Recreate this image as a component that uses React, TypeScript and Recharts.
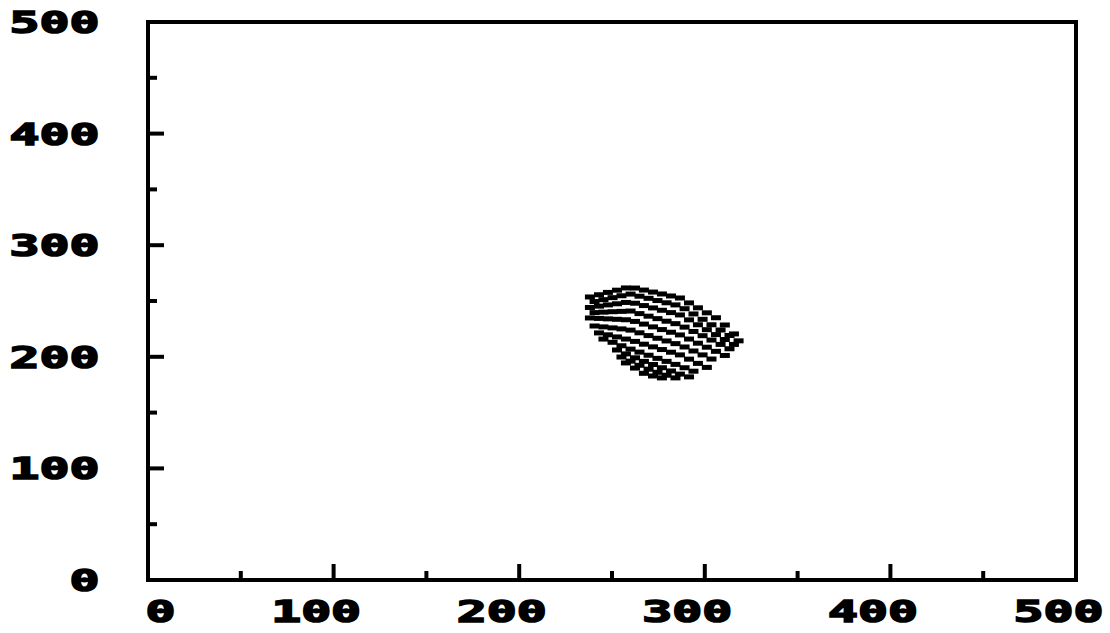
import { ScatterChart, Scatter, XAxis, YAxis, ReferenceArea } from 'recharts';

// axis ticks (labels only on the hundreds)
const axisTicks = [0, 50, 100, 150, 200, 250, 300, 350, 400, 450, 500];

// sample columns of the mesh (x values), two interleaved sets
const evenCols = [238.1, 243.0, 247.8, 252.7, 257.5, 262.4, 267.2, 272.1, 276.9, 281.8, 286.6, 291.5, 296.3, 301.1, 306.0, 310.8, 315.7];
const oddCols = [240.6, 245.4, 250.3, 255.1, 260.0, 264.8, 269.7, 274.5, 279.4, 284.2, 289.1, 293.9, 298.8, 303.6, 308.5, 313.3, 318.2];

// y values of each strand of the mesh, top to bottom
const strand0 = [253.6, 255.6, 257.7, 259.7, 261.7, 261.6, 259.8, 258.0, 256.3, 254.5, 252.7, 248.3, 243.9, 239.4, 235.0, 228.5, 220.5];
const strand1 = [249.5, 251.2, 253.0, 254.7, 256.2, 254.3, 252.4, 250.4, 248.4, 246.5, 243.1, 238.4, 233.6, 228.7, 224.0, 219.1, 214.3];
const strand2 = [244.2, 245.4, 246.5, 247.5, 248.7, 248.0, 245.9, 243.8, 241.7, 239.6, 237.5, 233.1, 228.7, 224.3, 219.9, 215.5, 211.1];
const strand3 = [239.6, 240.0, 240.4, 240.7, 241.0, 238.7, 236.4, 234.2, 231.9, 229.7, 226.6, 222.7, 218.9, 215.0, 211.1, 207.2];
const strand4 = [234.8, 234.4, 234.0, 233.6, 233.2, 231.7, 229.3, 226.8, 224.4, 222.0, 219.6, 215.9, 212.2, 208.6, 204.9, 201.2];
const strand5 = [227.6, 226.8, 225.9, 225.0, 223.9, 221.5, 219.0, 216.6, 214.2, 211.8, 208.8, 205.2, 201.7, 198.0];
const strand6 = [221.4, 219.7, 217.8, 215.9, 213.8, 211.3, 208.9, 206.5, 204.1, 201.7, 197.9, 194.1, 190.5];
const strand7 = [215.9, 213.0, 209.9, 206.9, 204.2, 201.4, 198.6, 195.9, 193.2, 190.2, 187.1];
const strand8 = [206.1, 202.6, 199.1, 195.9, 193.1, 190.2, 187.3, 184.5, 182.0];
const strand9 = [199.8, 196.1, 192.4, 188.9, 186.1, 183.5, 181.1];
const strand10 = [194.5, 189.9, 185.2, 182.8, 181.1];

const strands = [
  { cols: evenCols, start: 0, ys: strand0 },
  { cols: oddCols, start: 0, ys: strand1 },
  { cols: evenCols, start: 0, ys: strand2 },
  { cols: oddCols, start: 0, ys: strand3 },
  { cols: evenCols, start: 0, ys: strand4 },
  { cols: oddCols, start: 0, ys: strand5 },
  { cols: evenCols, start: 1, ys: strand6 },
  { cols: oddCols, start: 1, ys: strand7 },
  { cols: evenCols, start: 3, ys: strand8 },
  { cols: oddCols, start: 3, ys: strand9 },
  { cols: evenCols, start: 4, ys: strand10 },
];

const points = strands.flatMap((s) => s.ys.map((y, i) => ({ x: s.cols[s.start + i], y })));

const labelFont = {
  fontFamily: '"DejaVu Sans Mono", monospace',
  fontWeight: 700,
  fontSize: 30,
  fill: '#000',
  stroke: '#000',
  strokeWidth: 1.6,
};

const XTick = (props: any) => {
  const { x, y, payload } = props;
  const major = payload.value % 100 === 0;
  return (
    <g>
      <line x1={x} x2={x} y1={y} y2={y - (major ? 16 : 9)} stroke="#000" strokeWidth={4} />
      {major && (
        <text transform={`translate(${x + 27.5},${y + 42}) scale(1.66,1)`} textAnchor="end" {...labelFont}>
          {payload.value}
        </text>
      )}
    </g>
  );
};

const YTick = (props: any) => {
  const { x, y, payload } = props;
  const major = payload.value % 100 === 0;
  return (
    <g>
      <line x1={x} x2={x + (major ? 16 : 9)} y1={y} y2={y} stroke="#000" strokeWidth={4} />
      {major && (
        <text transform={`translate(99.5,${y + 11}) scale(1.66,1)`} textAnchor="end" {...labelFont}>
          {payload.value}
        </text>
      )}
    </g>
  );
};

const Dash = (props: any) => {
  const { cx, cy } = props;
  return <rect x={cx - 5} y={cy - 2.5} width={10} height={5} fill="#000" />;
};

export default function App() {
  return (
    <div style={{ position: 'absolute', left: 0, top: 0, width: 1110, height: 633, background: '#fff' }}>
      <ScatterChart width={1110} height={633} margin={{ top: 22, right: 34, bottom: 0, left: 0 }}>
        <XAxis
          type="number"
          dataKey="x"
          domain={[0, 500]}
          ticks={axisTicks}
          interval={0}
          height={53}
          axisLine={false}
          tickLine={false}
          tickSize={0}
          tickMargin={0}
          tick={<XTick />}
        />
        <YAxis
          type="number"
          dataKey="y"
          domain={[0, 500]}
          ticks={axisTicks}
          interval={0}
          width={148}
          axisLine={false}
          tickLine={false}
          tickSize={0}
          tickMargin={0}
          tick={<YTick />}
        />
        <ReferenceArea x1={0} x2={500} y1={0} y2={500} fill="none" stroke="#000" strokeWidth={4} ifOverflow="visible" />
        <Scatter data={points} shape={<Dash />} isAnimationActive={false} />
      </ScatterChart>
    </div>
  );
}
